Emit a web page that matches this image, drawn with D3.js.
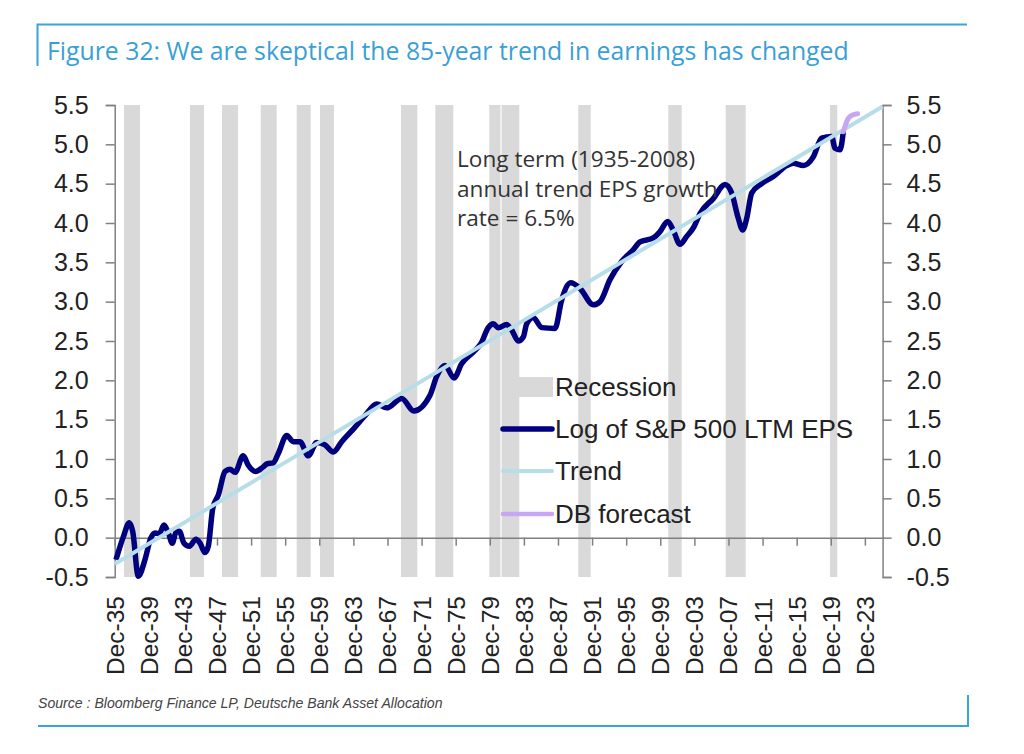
<!DOCTYPE html>
<html>
<head>
<meta charset="utf-8">
<script src="https://d3js.org/d3.v7.min.js"></script>
<style>
  html, body { margin: 0; padding: 0; background: #fff; }
  svg { display: block; }
  text { font-family: "Liberation Sans", Arial, sans-serif; fill: #222; }
  .house { font-family: "Open Sans", sans-serif; }
</style>
</head>
<body>
<div id="chart"></div>
<script>
// decimal years
const epsYears = [1936.07, 1936.93, 1937.63, 1938.03, 1938.69, 1939.47, 1940.14, 1940.65, 1941.15, 1941.70,
  1942.21, 1942.68, 1943.11, 1943.50, 1944.05, 1944.67, 1945.46, 1945.93, 1946.51, 1946.90,
  1947.42, 1948.07, 1948.86, 1949.44, 1950.03, 1951.00, 1951.59, 1952.46, 1953.35, 1953.82,
  1954.52, 1955.11, 1956.10, 1956.87, 1957.66, 1958.63, 1959.62, 1960.59, 1961.56, 1962.55,
  1963.91, 1965.28, 1966.65, 1967.83, 1969.59, 1971.00, 1972.91, 1973.69, 1974.66, 1975.72,
  1976.62, 1977.98, 1978.89, 1979.74, 1980.33, 1980.92, 1981.90, 1982.49, 1983.26, 1983.85,
  1984.25, 1985.02, 1986.01, 1987.57, 1988.35, 1989.41, 1990.50, 1992.06, 1992.85, 1994.02,
  1995.39, 1996.75, 1997.54, 1999.10, 1999.88, 2000.79, 2001.44, 2002.23, 2003.02, 2003.87,
  2004.58, 2006.14, 2007.51, 2008.30, 2009.07, 2009.59, 2010.06, 2010.64, 2011.81, 2013.17,
  2014.75, 2015.52, 2016.69, 2017.87, 2018.85, 2020.03, 2020.41, 2021.00, 2021.39];
const epsValues = [-0.28, 0.01, 0.19, 0.08, -0.49, -0.28, -0.01, 0.06, 0.05, 0.16,
  0.06, -0.07, 0.07, 0.08, -0.07, -0.11, -0.02, -0.07, -0.19, -0.11,
  0.37, 0.54, 0.84, 0.87, 0.83, 1.04, 0.92, 0.84, 0.90, 0.94,
  0.95, 1.07, 1.30, 1.22, 1.22, 1.04, 1.21, 1.18, 1.09, 1.22,
  1.38, 1.55, 1.70, 1.65, 1.77, 1.61, 1.81, 2.05, 2.19, 2.03,
  2.21, 2.36, 2.47, 2.67, 2.72, 2.67, 2.71, 2.64, 2.50, 2.55,
  2.72, 2.80, 2.67, 2.66, 3.02, 3.24, 3.17, 2.96, 3.00, 3.28,
  3.51, 3.66, 3.76, 3.81, 3.89, 4.02, 3.91, 3.73, 3.83, 3.95,
  4.12, 4.31, 4.49, 4.38, 4.06, 3.91, 4.06, 4.38, 4.50, 4.59,
  4.73, 4.76, 4.73, 4.84, 5.08, 5.10, 4.95, 4.93, 5.16];

const trendYears = [1935.92, 2026.0];
const trendValues = [-0.335, 5.48];

const forecastYears = [2021.39, 2021.97, 2022.4, 2023.07];
const forecastValues = [5.16, 5.33, 5.37, 5.39];

const recessionStart = [1937.01, 1944.75, 1948.51, 1953.05, 1957.27, 1960.0, 1969.5, 1973.53, 1979.86, 1981.31,
  1990.3, 2000.86, 2007.59, 2019.82];
const recessionEnd = [1938.89, 1946.39, 1950.39, 1954.92, 1958.91, 1961.64, 1971.42, 1975.64, 1981.17, 1983.38,
  1991.76, 2002.43, 2009.94, 2020.68];

const tickYears = d3.range(0, 23).map(i => 1935.92 + i * 4);
const tickLabels = ['Dec-35', 'Dec-39', 'Dec-43', 'Dec-47', 'Dec-51', 'Dec-55', 'Dec-59', 'Dec-63', 'Dec-67', 'Dec-71',
  'Dec-75', 'Dec-79', 'Dec-83', 'Dec-87', 'Dec-91', 'Dec-95', 'Dec-99', 'Dec-03', 'Dec-07', 'Dec-11',
  'Dec-15', 'Dec-19', 'Dec-23'];
const yTicks = [-0.5, 0, 0.5, 1, 1.5, 2, 2.5, 3, 3.5, 4, 4.5, 5, 5.5];

const width = 1024, height = 754;
const frameColor = '#3aa3d8', axisColor = '#808080';
const navy = '#00007f', trendColor = '#b7dde9', forecastColor = '#c9a6f4', recessionColor = '#d9d9d9';

const svg = d3.select('#chart').append('svg')
  .attr('width', width)
  .attr('height', height)
  .attr('viewBox', `0 0 ${width} ${height}`);

const x = d3.scaleLinear().domain([1935.92, 2026.0]).range([114.7, 882.6]);
const y = d3.scaleLinear().domain([-0.5, 5.5]).range([577, 105]);

// Frame
svg.append('path')
  .attr('d', 'M37.5,66V24.5H967')
  .attr('fill', 'none').attr('stroke', frameColor).attr('stroke-width', 2);
svg.append('path')
  .attr('d', 'M38,726H968V695')
  .attr('fill', 'none').attr('stroke', frameColor).attr('stroke-width', 2);

svg.append('text')
  .attr('class', 'house')
  .attr('x', 47)
  .attr('y', 60)
  .attr('font-size', 24.8)
  .style('fill', '#3a9fd5')
  .text('Figure 32: We are skeptical the 85-year trend in earnings has changed');

// Recession bands
svg.append('g').selectAll('rect')
  .data(recessionStart)
  .join('rect')
  .attr('x', d => x(d))
  .attr('y', y(5.5))
  .attr('width', (d, i) => x(recessionEnd[i]) - x(d))
  .attr('height', y(-0.5) - y(5.5))
  .attr('fill', recessionColor);

// Axes
const styleAxis = g => {
  g.selectAll('path, line').attr('stroke', axisColor).attr('stroke-width', 1.5);
  g.selectAll('text').attr('font-size', 25).style('font-family', '"Liberation Sans", Arial, sans-serif').style('fill', '#222');
};

svg.append('g')
  .attr('transform', `translate(${x.range()[0]},0)`)
  .call(d3.axisLeft(y).tickValues(yTicks).tickSize(9).tickPadding(17).tickFormat(d => d.toFixed(1)))
  .call(styleAxis);

svg.append('g')
  .attr('transform', `translate(${x.range()[1]},0)`)
  .call(d3.axisRight(y).tickValues(yTicks).tickSize(9).tickPadding(15).tickFormat(d => d.toFixed(1)))
  .call(styleAxis);

const xAxis = svg.append('g')
  .attr('transform', `translate(0,${y(0)})`)
  .call(d3.axisBottom(x).tickValues(tickYears).tickSize(8).tickSizeOuter(0).tickFormat((d, i) => tickLabels[i]))
  .call(styleAxis);

xAxis.selectAll('text')
  .attr('font-size', 24.5)
  .attr('text-anchor', 'start')
  .attr('dy', 0)
  .attr('x', 0)
  .attr('y', 0)
  .attr('dominant-baseline', 'central')
  .attr('transform', `translate(0,${675 - y(0)}) rotate(-90)`);

// Series
const line = d3.line().x(d => x(d[0])).y(d => y(d[1]));
const smooth = d3.line().x(d => x(d[0])).y(d => y(d[1])).curve(d3.curveMonotoneX);

svg.append('path')
  .datum(d3.zip(epsYears, epsValues))
  .attr('d', smooth)
  .attr('fill', 'none')
  .attr('stroke', navy)
  .attr('stroke-width', 5.5)
  .attr('stroke-linejoin', 'round');

svg.append('path')
  .datum(d3.zip(trendYears, trendValues))
  .attr('d', line)
  .attr('fill', 'none')
  .attr('stroke', trendColor)
  .attr('stroke-width', 4);

svg.append('path')
  .datum(d3.zip(forecastYears, forecastValues))
  .attr('d', smooth)
  .attr('fill', 'none')
  .attr('stroke', forecastColor)
  .attr('stroke-width', 5)
  .attr('stroke-linecap', 'round');

// Annotation
['Long term (1935-2008)', 'annual trend EPS growth', 'rate = 6.5%'].forEach((t, i) => {
  svg.append('text')
    .attr('class', 'house')
    .attr('x', 457)
    .attr('y', 167 + i * 29.5)
    .attr('font-size', 22.6)
    .style('fill', '#333')
    .text(t);
});

// Legend
const legend = svg.append('g');
legend.append('rect')
  .attr('x', 502).attr('y', 377).attr('width', 51).attr('height', 20)
  .attr('fill', recessionColor);
[[429, navy, 5.5, 'Log of S&P 500 LTM EPS'], [471, trendColor, 4, 'Trend'], [514, forecastColor, 4.5, 'DB forecast']]
  .forEach(([ly, color, sw, label]) => {
    legend.append('line')
      .attr('x1', 503).attr('x2', 552).attr('y1', ly).attr('y2', ly)
      .attr('stroke', color).attr('stroke-width', sw).attr('stroke-linecap', 'round');
    legend.append('text')
      .attr('x', 555).attr('y', ly + 9)
      .attr('font-size', 26)
      .text(label);
  });
legend.append('text')
  .attr('x', 555).attr('y', 396)
  .attr('font-size', 26)
  .text('Recession');

svg.append('text')
  .attr('x', 38)
  .attr('y', 708)
  .attr('font-size', 14.1)
  .attr('font-style', 'italic')
  .style('fill', '#444')
  .text('Source : Bloomberg Finance LP, Deutsche Bank Asset Allocation');
</script>
</body>
</html>
